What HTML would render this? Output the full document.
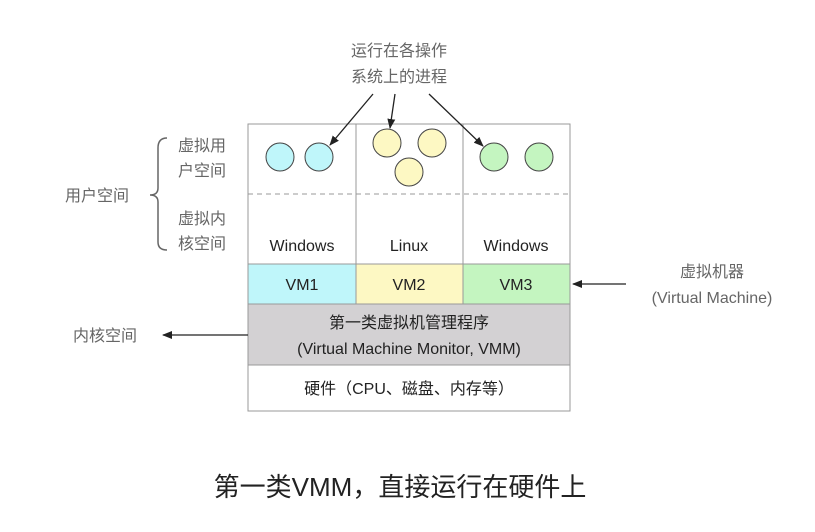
<!DOCTYPE html>
<html><head><meta charset="utf-8"><style>
body{margin:0;background:#fff;width:815px;height:532px;overflow:hidden}
svg{display:block}
text{font-family:"Liberation Sans","Noto Sans CJK SC",sans-serif}
</style></head><body>
<svg width="815" height="532" viewBox="0 0 815 532" xmlns="http://www.w3.org/2000/svg">
<defs><marker id="a" markerWidth="10" markerHeight="8" refX="9" refY="4" orient="auto" markerUnits="userSpaceOnUse"><path d="M0,0 L10,4 L0,8 Z" fill="#222"/></marker></defs>
<!-- rows -->
<rect x="248" y="124" width="322" height="140" fill="#fff" stroke="#999"/>
<line x1="356" y1="124" x2="356" y2="264" stroke="#999"/>
<line x1="463" y1="124" x2="463" y2="264" stroke="#999"/>
<line x1="248" y1="194" x2="570" y2="194" stroke="#999" stroke-dasharray="5,4"/>
<rect x="248" y="264" width="108" height="40" fill="#bff6fa" stroke="#999"/>
<rect x="356" y="264" width="107" height="40" fill="#fdf8c3" stroke="#999"/>
<rect x="463" y="264" width="107" height="40" fill="#c4f5c0" stroke="#999"/>
<rect x="248" y="304" width="322" height="61" fill="#d3d1d3" stroke="#999"/>
<rect x="248" y="365" width="322" height="46" fill="#fff" stroke="#999"/>
<!-- circles -->
<g stroke="#444" stroke-width="1">
<circle cx="280" cy="157" r="14" fill="#bff6fa"/><circle cx="319" cy="157" r="14" fill="#bff6fa"/>
<circle cx="387" cy="143" r="14" fill="#fdf8c3"/><circle cx="432" cy="143" r="14" fill="#fdf8c3"/><circle cx="409" cy="172" r="14" fill="#fdf8c3"/>
<circle cx="494" cy="157" r="14" fill="#c4f5c0"/><circle cx="539" cy="157" r="14" fill="#c4f5c0"/>
</g>
<g font-size="16" fill="#222" text-anchor="middle">
<text x="302" y="251">Windows</text><text x="409" y="251">Linux</text><text x="516" y="251">Windows</text>
<text x="302" y="290">VM1</text><text x="409" y="290">VM2</text><text x="516" y="290">VM3</text>
<text x="409" y="328">第一类虚拟机管理程序</text>
<text x="409" y="354">(Virtual Machine Monitor, VMM)</text>
<text x="409" y="394">硬件（CPU、磁盘、内存等）</text>
</g>
<g font-size="16" fill="#666">
<text x="399" y="56" text-anchor="middle">运行在各操作</text>
<text x="399" y="82" text-anchor="middle">系统上的进程</text>
<text x="178" y="151">虚拟用</text><text x="178" y="176">户空间</text>
<text x="178" y="224">虚拟内</text><text x="178" y="249">核空间</text>
<text x="65" y="201">用户空间</text>
<text x="73" y="341">内核空间</text>
<text x="712" y="277" text-anchor="middle">虚拟机器</text>
<text x="712" y="303" text-anchor="middle">(Virtual Machine)</text>
</g>
<path d="M167,138 Q158,138 158,148 L158,188 Q158,195 150,195 Q158,195 158,202 L158,242 Q158,250 167,250" fill="none" stroke="#666" stroke-width="1.5"/>
<g stroke="#222" stroke-width="1.3" fill="none" marker-end="url(#a)">
<line x1="373" y1="94" x2="330" y2="145"/>
<line x1="395" y1="94" x2="390" y2="128"/>
<line x1="429" y1="94" x2="483" y2="146"/>
<line x1="248" y1="335" x2="163" y2="335"/>
<line x1="626" y1="284" x2="573" y2="284"/>
</g>
<text x="400" y="496" text-anchor="middle" font-size="26" fill="#222">第一类VMM，直接运行在硬件上</text>
</svg>
</body></html>
